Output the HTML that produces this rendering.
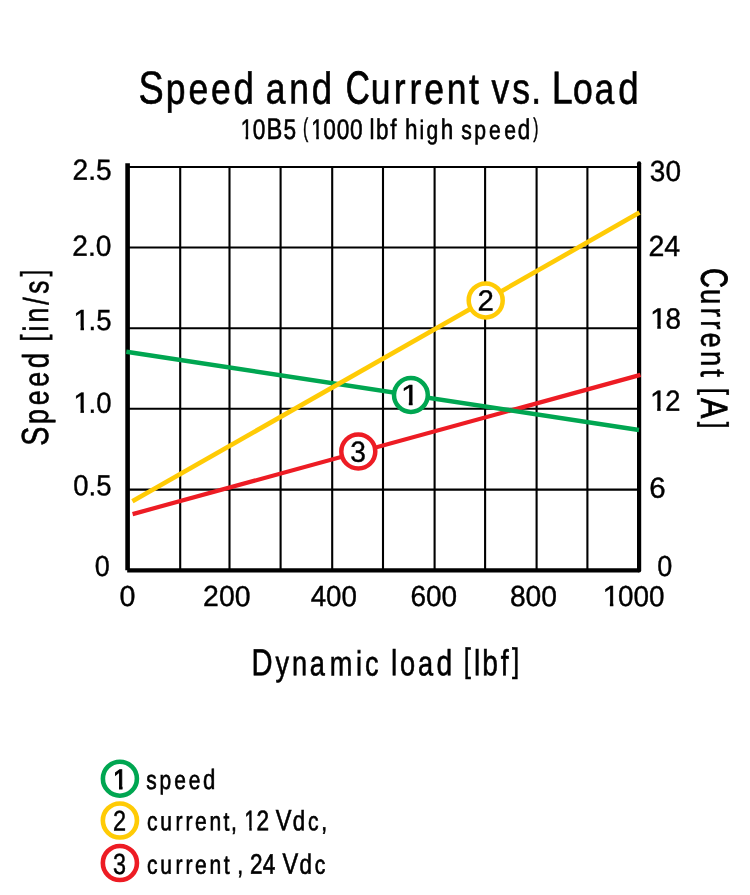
<!DOCTYPE html>
<html><head><meta charset="utf-8"><title>Speed and Current vs. Load</title>
<style>
html,body{margin:0;padding:0;background:#fff;}
svg{display:block;will-change:transform;}
text{font-family:"Liberation Sans",sans-serif;fill:#000;}
</style></head>
<body>
<svg width="750" height="895" viewBox="0 0 750 895">
<defs><clipPath id="one29_0s0_4"><path d="M-2.900,-29.000H29.000V-3.316H10.210V1.450H6.943V-3.316H-2.900Z"/></clipPath><clipPath id="one28_4s0_6"><path d="M-2.840,-28.400H28.400V-3.371H10.106V1.420H6.693V-3.371H-2.840Z"/></clipPath><clipPath id="one28_0s1_0"><path d="M-2.800,-28.000H28.000V-3.542H10.170V1.400H6.392V-3.542H-2.800Z"/></clipPath><clipPath id="one28_3s0_65"><path d="M-2.830,-28.300H28.300V-3.389H10.097V1.415H6.642V-3.389H-2.830Z"/></clipPath></defs>
<rect x="0" y="0" width="750" height="895" fill="#fff"/>
<g stroke="#000" stroke-width="2.1" fill="none">
<line x1="180.2" y1="167" x2="180.2" y2="570"/>
<line x1="229.5" y1="167" x2="229.5" y2="570"/>
<line x1="280.6" y1="167" x2="280.6" y2="570"/>
<line x1="332.2" y1="167" x2="332.2" y2="570"/>
<line x1="383.0" y1="167" x2="383.0" y2="570"/>
<line x1="434.6" y1="167" x2="434.6" y2="570"/>
<line x1="485.1" y1="167" x2="485.1" y2="570"/>
<line x1="536.6" y1="167" x2="536.6" y2="570"/>
<line x1="587.4" y1="167" x2="587.4" y2="570"/>
<line x1="127.6" y1="167.0" x2="639" y2="167.0"/>
<line x1="127.6" y1="247.5" x2="639" y2="247.5"/>
<line x1="127.6" y1="328.2" x2="639" y2="328.2"/>
<line x1="127.6" y1="408.8" x2="639" y2="408.8"/>
<line x1="127.6" y1="489.6" x2="639" y2="489.6"/>
</g>
<line x1="127.6" y1="163.3" x2="127.6" y2="570.2" stroke="#000" stroke-width="4.6"/>
<line x1="127.2" y1="570.4" x2="639.1" y2="570.4" stroke="#000" stroke-width="4.2"/>
<line x1="639.1" y1="163.3" x2="639.1" y2="570.4" stroke="#000" stroke-width="4.2" stroke-linecap="round"/>
<line x1="132.6" y1="514.1" x2="640.5" y2="374.9" stroke="#ED1C24" stroke-width="4.2"/>
<line x1="126.3" y1="351.7" x2="639" y2="430" stroke="#00A651" stroke-width="4.5"/>
<line x1="132.4" y1="501.2" x2="639.5" y2="212.6" stroke="#FFCB05" stroke-width="4.6"/>
<circle cx="410.9" cy="395" r="16.9" fill="#fff" stroke="#00A651" stroke-width="4.5"/>
<circle cx="485.7" cy="300.4" r="17" fill="#fff" stroke="#FFCB05" stroke-width="4.5"/>
<circle cx="358.3" cy="451.5" r="17" fill="#fff" stroke="#ED1C24" stroke-width="4.5"/>
<text transform="translate(400.76,405.00) scale(1.1598,1) skewY(0.05)" font-size="29.0" stroke="#000" stroke-width="0.4" clip-path="url(#one29_0s0_4)">1</text>
<text transform="translate(477.53,310.40) scale(1.0155,1) skewY(0.05)" font-size="29.0" stroke="#000" stroke-width="0.4">2</text>
<text transform="translate(350.34,461.70) scale(0.9728,1) skewY(0.05)" font-size="29.0" stroke="#000" stroke-width="0.4">3</text>
<text transform="translate(72.49,179.70) scale(0.9708,1) skewY(0.05)" font-size="29.0" stroke="#000" stroke-width="0.4">2.5</text>
<text transform="translate(72.29,255.80) scale(0.9716,1) skewY(0.05)" font-size="29.0" stroke="#000" stroke-width="0.4">2.0</text>
<g transform="translate(73.28,329.90) scale(0.9506,1) skewY(0.05)" font-size="29.0" stroke="#000" stroke-width="0.4"><text transform="scale(1.1,1)" clip-path="url(#one29_0s0_4)">1</text><text x="16.13">.5</text></g>
<g transform="translate(73.29,412.80) scale(0.9487,1) skewY(0.05)" font-size="29.0" stroke="#000" stroke-width="0.4"><text transform="scale(1.1,1)" clip-path="url(#one29_0s0_4)">1</text><text x="16.13">.0</text></g>
<text transform="translate(73.30,495.20) scale(0.9476,1) skewY(0.05)" font-size="29.0" stroke="#000" stroke-width="0.4">0.5</text>
<text transform="translate(94.82,575.90) scale(0.9316,1) skewY(0.05)" font-size="29.0" stroke="#000" stroke-width="0.4">0</text>
<text transform="translate(649.85,180.90) scale(0.9662,1) skewY(0.05)" font-size="29.0" stroke="#000" stroke-width="0.4">30</text>
<text transform="translate(648.47,256.00) scale(0.9852,1) skewY(0.05)" font-size="29.0" stroke="#000" stroke-width="0.4">24</text>
<g transform="translate(649.95,328.50) scale(0.9610,1) skewY(0.05)" font-size="29.0" stroke="#000" stroke-width="0.4"><text transform="scale(1.1,1)" clip-path="url(#one29_0s0_4)">1</text><text x="16.13">8</text></g>
<g transform="translate(650.01,410.70) scale(0.9432,1) skewY(0.05)" font-size="29.0" stroke="#000" stroke-width="0.4"><text transform="scale(1.1,1)" clip-path="url(#one29_0s0_4)">1</text><text x="16.13">2</text></g>
<text transform="translate(649.13,497.80) scale(1.0140,1) skewY(0.05)" font-size="29.0" stroke="#000" stroke-width="0.4">6</text>
<text transform="translate(657.22,575.90) scale(0.9316,1) skewY(0.05)" font-size="29.0" stroke="#000" stroke-width="0.4">0</text>
<text transform="translate(119.45,606.10) scale(0.9893,1) skewY(0.05)" font-size="29.0" stroke="#000" stroke-width="0.4">0</text>
<text transform="translate(203.08,606.10) scale(0.9799,1) skewY(0.05)" font-size="29.0" stroke="#000" stroke-width="0.4">200</text>
<text transform="translate(310.68,606.10) scale(0.9567,1) skewY(0.05)" font-size="29.0" stroke="#000" stroke-width="0.4">400</text>
<text transform="translate(410.40,606.10) scale(0.9646,1) skewY(0.05)" font-size="29.0" stroke="#000" stroke-width="0.4">600</text>
<text transform="translate(509.90,606.10) scale(0.9731,1) skewY(0.05)" font-size="29.0" stroke="#000" stroke-width="0.4">800</text>
<g transform="translate(602.55,606.10) scale(0.9603,1) skewY(0.05)" font-size="29.0" stroke="#000" stroke-width="0.4"><text transform="scale(1.1,1)" clip-path="url(#one29_0s0_4)">1</text><text x="16.13">000</text></g>
<text transform="translate(141.20,103.60) scale(0.8185,1) skewY(0.05)" x="-3.27 29.93 57.72 85.20 112.63" font-size="43.4" stroke="#000" stroke-width="0.6"><tspan font-size="46.2">S</tspan>pee<tspan font-size="44.8">d</tspan></text>
<text transform="translate(268.30,103.60) scale(0.8185,1) skewY(0.05)" x="-3.25 25.59 53.01" font-size="43.4" stroke="#000" stroke-width="0.6">an<tspan font-size="44.8">d</tspan></text>
<text transform="translate(345.75,103.60) scale(0.7200,1) skewY(0.05)" font-size="46.2" stroke="#000" stroke-width="0.8999999999999999">C</text>
<text transform="translate(372.80,103.60) scale(0.8185,1) skewY(0.05)" x="-2.45 25.67 44.79 62.85 90.22 117.64" font-size="43.4" stroke="#000" stroke-width="0.6">urrent</text>
<text transform="translate(491.30,103.60) scale(0.8185,1) skewY(0.05)" x="0.39 25.66 48.84" font-size="43.4" stroke="#000" stroke-width="0.6">vs.</text>
<text transform="translate(555.40,103.60) scale(0.8185,1) skewY(0.05)" x="-4.57 21.56 47.88 76.71" font-size="43.4" stroke="#000" stroke-width="0.6"><tspan font-size="46.2">L</tspan>oa<tspan font-size="44.8">d</tspan></text>
<text transform="translate(240.64,138.90) scale(0.7443,1) skewY(0.05)" font-size="28.4" stroke="#000" stroke-width="0.6" clip-path="url(#one28_4s0_6)">1</text>
<text transform="translate(253.50,138.90) scale(0.7976,1) skewY(0.05)" x="-0.83 16.31 37.69" font-size="26.5" stroke="#000" stroke-width="0.6"><tspan font-size="28.4">0</tspan><tspan font-size="29.8">B</tspan><tspan font-size="28.4">5</tspan></text>
<text transform="translate(302.97,136.52) scale(0.5283,0.8848) skewY(0.05)" font-size="29.8" stroke="#000" stroke-width="0.6">(</text>
<text transform="translate(311.29,138.90) scale(0.7443,1) skewY(0.05)" font-size="28.4" stroke="#000" stroke-width="0.6" clip-path="url(#one28_4s0_6)">1</text>
<text transform="translate(324.00,138.90) scale(0.7976,1) skewY(0.05)" x="-1.08 16.09 32.52" font-size="26.5" stroke="#000" stroke-width="0.6"><tspan font-size="28.4">0</tspan><tspan font-size="28.4">0</tspan><tspan font-size="28.4">0</tspan></text>
<text transform="translate(370.80,138.90) scale(0.7976,1) skewY(0.05)" x="-1.50 6.38 24.49" font-size="26.5" stroke="#000" stroke-width="0.6"><tspan font-size="28.15">l</tspan><tspan font-size="28.15">b</tspan><tspan font-size="28.15">f</tspan></text>
<text transform="translate(406.20,138.90) scale(0.7976,1) skewY(0.05)" x="-1.49 16.73 25.54 43.24" font-size="26.5" stroke="#000" stroke-width="0.6"><tspan font-size="28.15">h</tspan>ig<tspan font-size="28.15">h</tspan></text>
<text transform="translate(461.90,138.90) scale(0.7976,1) skewY(0.05)" x="-0.76 15.45 33.96 52.95 69.95" font-size="26.5" stroke="#000" stroke-width="0.6">spee<tspan font-size="28.15">d</tspan></text>
<text transform="translate(533.34,136.52) scale(0.5165,0.8848) skewY(0.05)" font-size="29.8" stroke="#000" stroke-width="0.6">)</text>
<text transform="translate(254.45,675.30) scale(0.7767,1) skewY(0.05)" x="-3.78 27.17 48.37 71.20 96.88 130.71 142.33" font-size="35.0" stroke="#000" stroke-width="0.6"><tspan font-size="37.6">D</tspan>ynamic</text>
<text transform="translate(392.80,675.30) scale(0.7767,1) skewY(0.05)" x="-2.30 9.11 32.29 56.40" font-size="35.0" stroke="#000" stroke-width="0.6"><tspan font-size="36.3">l</tspan>oa<tspan font-size="36.3">d</tspan></text>
<text transform="translate(463.84,672.03) scale(0.6853,0.9036) skewY(0.05)" font-size="37.6" stroke="#000" stroke-width="0.6">[</text>
<text transform="translate(475.90,675.30) scale(0.7767,1) skewY(0.05)" x="-2.36 8.08 31.92" font-size="35.0" stroke="#000" stroke-width="0.6"><tspan font-size="36.3">l</tspan><tspan font-size="36.3">b</tspan><tspan font-size="36.3">f</tspan></text>
<text transform="translate(512.01,672.03) scale(0.6897,0.9036) skewY(0.05)" font-size="37.6" stroke="#000" stroke-width="0.6">]</text>
<text transform="translate(48.10,444.10) rotate(-90) scale(0.7625,1) skewY(0.05)" x="-2.31 26.51 51.01 75.28 99.46" font-size="35.0" stroke="#000" stroke-width="0.6"><tspan font-size="37.7">S</tspan>pee<tspan font-size="36.35">d</tspan></text>
<text transform="translate(45.04,341.40) rotate(-90) scale(0.6587,0.9126) skewY(0.05)" font-size="37.7" stroke="#000" stroke-width="0.6">[</text>
<text transform="translate(48.10,329.60) rotate(-90) scale(0.7625,1) skewY(0.05)" x="-2.42 9.26 32.52 46.92" font-size="35.0" stroke="#000" stroke-width="0.6">in/s</text>
<text transform="translate(45.04,276.49) rotate(-90) scale(0.6265,0.9126) skewY(0.05)" font-size="37.7" stroke="#000" stroke-width="0.6">]</text>
<text transform="translate(701.20,268.16) rotate(90) scale(0.7200,1) skewY(0.05)" font-size="37.7" stroke="#000" stroke-width="0.8999999999999999">C</text>
<text transform="translate(701.20,290.60) rotate(90) scale(0.7819,1) skewY(0.05)" x="-1.98 21.91 37.90 53.47 77.15 100.59" font-size="35.0" stroke="#000" stroke-width="0.6">urrent</text>
<text transform="translate(704.24,388.00) rotate(90) scale(0.6587,0.8984) skewY(0.05)" font-size="37.7" stroke="#000" stroke-width="0.6">[</text>
<text transform="translate(701.20,398.26) rotate(90) scale(0.7976,1) skewY(0.05)" font-size="37.7" stroke="#000" stroke-width="0.8999999999999999">A</text>
<text transform="translate(704.24,421.71) rotate(90) scale(0.6511,0.8984) skewY(0.05)" font-size="37.7" stroke="#000" stroke-width="0.6">]</text>
<circle cx="119.9" cy="778.7" r="17.0" fill="#fff" stroke="#00A651" stroke-width="4.6"/>
<circle cx="119.9" cy="820.5" r="17.05" fill="#fff" stroke="#FFCB05" stroke-width="4.6"/>
<circle cx="119.9" cy="863.0" r="17.05" fill="#fff" stroke="#ED1C24" stroke-width="4.6"/>
<text transform="translate(113.11,789.00) scale(0.9229,1) skewY(0.05)" font-size="28.0" stroke="#000" stroke-width="1.0" clip-path="url(#one28_0s1_0)">1</text>
<text transform="translate(112.92,830.40) scale(0.8280,1) skewY(0.05)" font-size="28.4" stroke="#000" stroke-width="0.5">2</text>
<text transform="translate(112.97,874.00) scale(0.8003,1) skewY(0.05)" font-size="29.2" stroke="#000" stroke-width="0.5">3</text>
<text transform="translate(146.70,789.00) scale(0.7933,1) skewY(0.05)" x="-0.64 15.98 34.78 53.18 71.06" font-size="26.4" stroke="#000" stroke-width="0.65">spee<tspan font-size="27.95">d</tspan></text>
<text transform="translate(147.50,830.30) scale(0.7983,1) skewY(0.05)" x="-0.79 16.04 35.00 47.46 59.63 77.69 95.19 104.50" font-size="26.4" stroke="#000" stroke-width="0.65">current,</text>
<text transform="translate(244.62,830.30) scale(0.7020,1) skewY(0.05)" font-size="28.3" stroke="#000" stroke-width="0.65" clip-path="url(#one28_3s0_65)">1</text>
<text transform="translate(257.70,830.30) scale(0.7983,1) skewY(0.05)" x="-1.65" font-size="26.4" stroke="#000" stroke-width="0.65"><tspan font-size="28.3">2</tspan></text>
<text transform="translate(276.30,830.30) scale(0.7983,1) skewY(0.05)" x="-0.70 20.71 39.61 56.21" font-size="26.4" stroke="#000" stroke-width="0.65"><tspan font-size="29.5">V</tspan><tspan font-size="27.95">d</tspan>c,</text>
<text transform="translate(147.50,873.70) scale(0.7983,1) skewY(0.05)" x="-0.79 16.04 35.00 47.46 59.63 77.69 95.44" font-size="26.4" stroke="#000" stroke-width="0.65">current</text>
<text transform="translate(238.50,873.70) scale(0.7983,1) skewY(0.05)" x="-1.47" font-size="26.4" stroke="#000" stroke-width="0.65">,</text>
<text transform="translate(251.30,873.70) scale(0.7983,1) skewY(0.05)" x="-1.65 14.39" font-size="26.4" stroke="#000" stroke-width="0.65"><tspan font-size="28.3">2</tspan><tspan font-size="28.3">4</tspan></text>
<text transform="translate(283.20,873.70) scale(0.7983,1) skewY(0.05)" x="-0.80 20.49 39.45" font-size="26.4" stroke="#000" stroke-width="0.65"><tspan font-size="29.5">V</tspan><tspan font-size="27.95">d</tspan>c</text>
</svg>
</body></html>
